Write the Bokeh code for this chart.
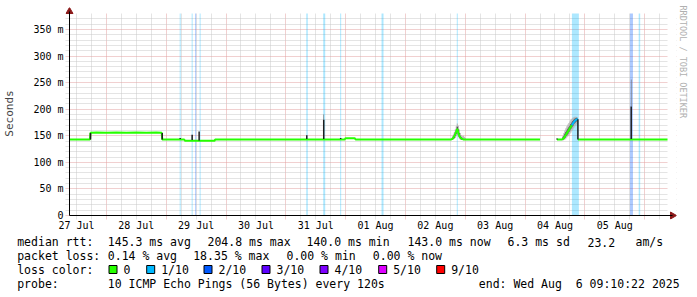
import math
import numpy as np
from bokeh.plotting import figure
from bokeh.layouts import column
from bokeh.models import FixedTicker, Range1d, LinearAxis, Title
from bokeh.core.properties import value
from bokeh.embed import file_html
from bokeh.resources import INLINE

NAN = float("nan")
FONT = "DejaVu Sans Mono"

# time axis: hours since 27 Jul 2025 00:00
T_START = 9 + 10 / 60 + 22 / 3600        # 27 Jul 09:10:22
T_END = T_START + 240                    # 06 Aug 09:10:22
Y_TOP = 380

day_labels = ["27 Jul", "28 Jul", "29 Jul", "30 Jul", "31 Jul",
              "01 Aug", "02 Aug", "03 Aug", "04 Aug", "05 Aug"]
day_noon = [12, 36, 60, 84, 108, 132, 156, 180, 204, 228]
y_ticks = [0, 50, 100, 150, 200, 250, 300, 350]
y_labels = ["0", "50 m", "100 m", "150 m", "200 m", "250 m", "300 m", "350 m"]

# median rtt (ms), loss 0 (green); NaN = gap
med_t = [9.17, 17.4, 17.6, 20.0, 24.0, 28.0, 32.0, 36.0, 40.0, 44.0, 46.2, 46.4,
         55.2, 55.6, 67.4, 67.6, 119.6, 120.0, 123.6, 124.0, 162.4,
         162.8, 163.2, 163.6, 164.0, 164.4, 164.8, 165.2, 165.6, 166.0, 166.4,
         166.8, 167.2, 167.6, 168.0, 198.0, NAN,
         204.8, 206.8, 207.2, 207.6, 208.0, 208.4, 208.8, 209.2, 209.6, 210.0,
         210.4, 210.8, NAN, 213.2, 249.17]
med_v = [143, 143, 155.5, 156, 155.5, 156, 155.5, 156, 155.5, 156, 155.5, 143,
         143, 140.5, 140.5, 143, 143, 145.5, 145.5, 143, 143,
         144, 146, 149, 153, 158, 163, 156, 150, 147, 145,
         144, 143, 143, 143, 143, NAN,
         143, 143, 144, 146, 149, 152, 155, 158, 161, 164,
         167, 170, NAN, 143, 143]

# median rtt (ms) with 1/10 loss (blue)
loss1_t = [210.8, 211.2, 211.6, 212.0, 212.4, 212.8, 213.2]
loss1_v = [170, 173, 176, 178, 180, 181, 181]

# dense smoke spikes (ms)
spike_t = [17.6, 46.4, 53.6, 58.4, 61.2, 104.4, 111.2, 118.0, 204.8, 213.2, 234.6]
spike_lo = [143, 143, 144, 142, 141, 144, 144, 144, 143, 143, 144]
spike_hi = [155, 155, 146, 152, 158, 151, 180, 146, 145, 181, 205]

# sparse smoke above spikes (ms)
thin_t = [111.2, 234.6]
thin_lo = [180, 205]
thin_hi = [190, 256]

# smoke around the 02 Aug bump and the 04 Aug rise (ms)
smoke_t = [162.8, 163.2, 163.6, 164.0, 164.4, 164.8, 165.2, 165.6, 166.0, 166.4,
           166.8, 167.2, 167.6, 168.0,
           207.2, 207.6, 208.0, 208.4, 208.8, 209.2, 209.6, 210.0, 210.4, 210.8,
           211.2, 211.6, 212.0, 212.4, 212.8]
smoke_lo = [142, 143, 144, 146, 149, 152, 148, 145, 143, 142, 142, 142, 142, 142,
            141, 142, 143, 145, 147, 149, 151, 154, 156, 159, 162, 165, 168, 170, 172]
smoke_hi = [148, 151, 156, 162, 168, 173, 169, 162, 155, 151, 149, 150, 148, 146,
            150, 155, 160, 164, 168, 171, 174, 177, 180, 182, 184, 185, 186, 186, 185]
core_lo = [143, 144, 146, 150, 154, 158, 152, 147, 145, 143, 143, 142, 142, 142,
           143, 144, 146, 149, 151, 154, 157, 160, 163, 166, 169, 172, 174, 176, 178]
core_hi = [146, 149, 153, 157, 162, 167, 162, 155, 150, 147, 145, 144, 144, 144,
           147, 150, 154, 157, 160, 163, 166, 169, 172, 175, 178, 180, 182, 183, 184]

# loss periods (hours) and their loss level
loss_start = [53.4, 58.2, 59.6, 61.4, 104.2, 111.0, 117.8, 134.4, 164.6, 210.8, 234.1, 237.6]
loss_end = [53.8, 58.6, 60.0, 61.8, 104.8, 111.8, 118.2, 135.2, 165.0, 213.6, 235.3, 238.2]
loss_level = ["1/10", "1/10", "2/10", "1/10", "1/10", "1/10", "1/10", "1/10",
              "1/10", "1/10", "2/10", "1/10"]

loss_names = ["0", "1/10", "2/10", "3/10", "4/10", "5/10", "9/10"]
loss_colors = ["#26ff00", "#00b8ff", "#0059ff", "#5e00ff", "#7e00ff", "#dd00ff", "#ff0000"]
loss_color_map = dict(zip(loss_names, loss_colors))

stats_rtt = ["145.3 ms avg", "204.8 ms max", "140.0 ms min", "143.0 ms now",
             "6.3 ms sd", "23.2", "am/s"]
stats_loss = ["0.14 % avg", "18.35 % max", "0.00 % min", "0.00 % now"]
probe_text = "10 ICMP Echo Pings (56 Bytes) every 120s"
end_text = "end: Wed Aug \u00a06 09:10:22 2025"

# ---------------------------------------------------------------- layout (px)
W = 697
P_H = 235                      # chart part height
L_H = 297 - P_H                # legend part height
AX_X, AX_Y = 67, 215           # axis positions in canvas px
PLOT_R, PLOT_T = 667, 13       # data area right / top
FR_L, FR_R, FR_T, FR_B = 63, 676, 7, 219   # frame (incl. tick + arrow room)
PX_PER_H = (PLOT_R - AX_X) / 240.0
PX_PER_MS = (AX_Y - PLOT_T) / float(Y_TOP)

x0 = T_START - (AX_X - FR_L) / PX_PER_H
x1 = T_END + (FR_R - PLOT_R) / PX_PER_H
y0 = -(FR_B - AX_Y) / PX_PER_MS
y1 = Y_TOP + (PLOT_T - FR_T) / PX_PER_MS

p = figure(width=W, height=P_H, output_backend="svg", toolbar_location=None,
           x_range=Range1d(x0, x1), y_range=Range1d(y0, y1),
           min_border_left=FR_L, min_border_right=W - FR_R,
           min_border_top=FR_T, min_border_bottom=P_H - FR_B,
           background_fill_color="white", border_fill_color="white",
           outline_line_color=None)
p.frame_align = False

MAJ = "#e3a0a0"
MIN = "#c8c8c8"
midnights = [24 * d for d in range(1, 11)]
six_h = [6 * k for k in range(2, 42) if (6 * k) % 24 != 0]
p.xgrid.ticker = FixedTicker(ticks=midnights, minor_ticks=six_h)
p.xgrid.grid_line_color = MAJ
p.xgrid.grid_line_dash = "1 1"
p.xgrid.minor_grid_line_color = MIN
p.xgrid.minor_grid_line_dash = "1 1"

y_minor = [v for v in range(10, Y_TOP, 10) if v % 50 != 0]
p.yaxis.ticker = FixedTicker(ticks=y_ticks, minor_ticks=y_minor)
p.ygrid.grid_line_color = MAJ
p.ygrid.grid_line_dash = "1 1"
p.ygrid.minor_grid_line_color = MIN
p.ygrid.minor_grid_line_dash = "1 1"

# arrow tip positions (data units)
x_arrow = T_START + (672 - AX_X) / PX_PER_H
y_arrow = (AX_Y - 11) / PX_PER_MS

# label axes (at the frame edges, no line)
p.xaxis.ticker = FixedTicker(ticks=day_noon, minor_ticks=[])
p.xaxis.major_label_overrides = {t: s for t, s in zip(day_noon, day_labels)}
p.yaxis.major_label_overrides = {t: s for t, s in zip(y_ticks, y_labels)}
for ax in (p.xaxis, p.yaxis):
    ax.axis_line_color = None
    ax.major_tick_line_color = None
    ax.minor_tick_line_color = None
    ax.major_tick_out = 0
    ax.major_tick_in = 0
    ax.minor_tick_out = 0
    ax.minor_tick_in = 0
    ax.major_label_text_font = FONT
    ax.major_label_text_font_size = "10px"
    ax.major_label_text_color = "black"
p.xaxis.major_label_standoff = 0
p.yaxis.major_label_standoff = 2
p.yaxis.axis_label = "Seconds"
p.yaxis.axis_label_text_font = FONT
p.yaxis.axis_label_text_font_size = "11px"
p.yaxis.axis_label_text_font_style = "normal"
p.yaxis.axis_label_standoff = 14

# axis lines at the zero lines
for side, loc, bnd in (("below", 0, (T_START, x_arrow)), ("left", T_START, (0, y_arrow))):
    a = LinearAxis(ticker=FixedTicker(ticks=[]), fixed_location=loc, bounds=bnd,
                   axis_line_color="black", major_tick_line_color=None,
                   minor_tick_line_color=None, major_tick_out=0, major_tick_in=0,
                   minor_tick_out=0, minor_tick_in=0, major_label_standoff=0)
    p.add_layout(a, side)

# watermark on the right
p.add_layout(Title(text="RRDTOOL / TOBI OETIKER", align="left", vertical_align="middle",
                   offset=-2, standoff=0, text_font=FONT, text_font_size="8.5px",
                   text_font_style="normal", text_color="#b0b0b0"), "right")

# keep the grid inside the data area
p.quad(left=[T_END, x0], right=[x1, T_END], bottom=[y0, Y_TOP], top=[y1, y1],
       fill_color="white", line_color=None)

# loss background
p.quad(left=loss_start, right=loss_end, bottom=0, top=Y_TOP,
       fill_color=[loss_color_map[l] for l in loss_level], fill_alpha=0.32,
       line_color=None)

# smoke
p.vbar(x=smoke_t, width=0.42, bottom=smoke_lo, top=smoke_hi,
       fill_color="#b0b0b0", line_color=None)
p.vbar(x=smoke_t, width=0.42, bottom=core_lo, top=core_hi,
       fill_color="#3a3a3a", line_color=None)
p.vbar(x=thin_t, width=0.25, bottom=thin_lo, top=thin_hi,
       fill_color="#707070", line_color=None)

# median
p.line(np.array(med_t, dtype=float), np.array(med_v, dtype=float),
       line_color=loss_color_map["0"], line_width=2)
p.line(loss1_t, loss1_v, line_color=loss_color_map["1/10"], line_width=2)

p.vbar(x=spike_t, width=0.6, bottom=spike_lo, top=spike_hi,
       fill_color="#1e1e1e", line_color=None)

# axis arrow heads
AR = "#8b1a1a"
p.scatter(x=[x_arrow, T_START], y=[0, y_arrow], marker="triangle", size=7,
          angle=[-math.pi / 2, 0], fill_color=AR, line_color=AR)

# ---------------------------------------------------------------- legend part
q = figure(width=W, height=L_H, output_backend="svg", toolbar_location=None,
           x_range=Range1d(0, W), y_range=Range1d(L_H, 0),
           min_border_left=0, min_border_right=0, min_border_top=0,
           min_border_bottom=0, x_axis_type=None, y_axis_type=None,
           background_fill_color="white", border_fill_color="white",
           outline_line_color=None)
q.frame_align = False
q.xgrid.visible = False
q.ygrid.visible = False


def txt(cx, cy, s):
    q.text(x=[cx], y=[cy - P_H], text=[s], text_font=value(FONT),
           text_font_size="11.5px", text_color="black", text_baseline="middle",
           text_align="left")


L1, L2, L3, L4 = 241.7, 255.0, 269.0, 283.3
txt(16.7, L1, "median rtt:")
for s, x in zip(stats_rtt, [107.3, 207, 306, 407, 507, 587, 635]):
    txt(x, L1, s)
txt(16.7, L2, "packet loss:")
for s, x in zip(stats_loss, [107.3, 192.7, 286, 372.3]):
    txt(x, L2, s)
txt(16.7, L3, "loss color:")
box_x = [108, 145.7, 203, 261, 319, 377.7, 435.7]
q.quad(left=[b + 0.5 for b in box_x], right=[b + 8.5 for b in box_x],
       top=L3 - 4 - P_H, bottom=L3 + 4 - P_H,
       fill_color=loss_colors, line_color="black", line_width=1)
for name, bx in zip(loss_names, box_x):
    txt(bx + 15, L3, name)
txt(16.7, L4, "probe:")
txt(107.3, L4, probe_text)
txt(478.3, L4, end_text)

layout = column(p, q, spacing=0)
open("out.html", "w").write(file_html(layout, INLINE))
